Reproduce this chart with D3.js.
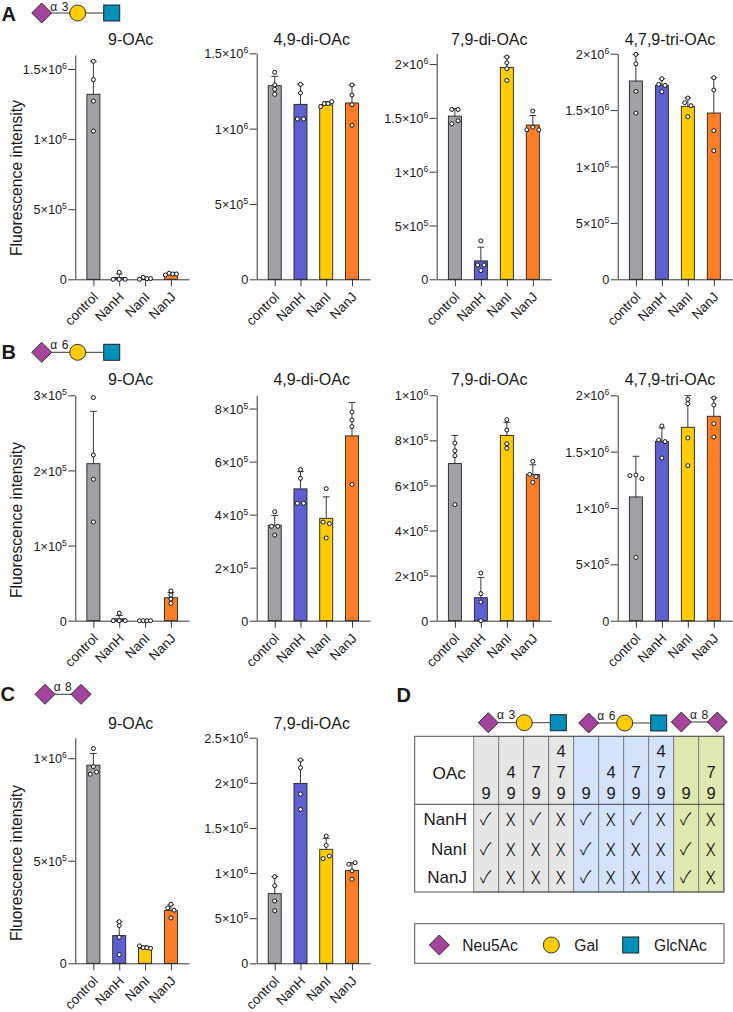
<!DOCTYPE html>
<html><head><meta charset="utf-8">
<style>html,body{margin:0;padding:0;background:#fff}svg{display:block}text{font-family:"Liberation Sans",Arial,sans-serif;fill:#1a1a1a}</style>
<script src="https://d3js.org/d3.v7.min.js"></script></head><body>
<svg id="c" width="733" height="1012"></svg>
<script>
// ---------- data ----------
const categories = ["control","NanH","NanI","NanJ"];
const barColors = ["#A2A2A6","#5F5FD0","#FFCC00","#FF7F27"];

const a1Means=[1320000,12500,6000,35000], a1Tops=[1555000,38000,14000,43000];
const a1Points=[[1555000,1424000,1271000,1057000],[0,50000,0,0],[0,14000,5000,5000],[31000,43000,38000,38000]];
const a2Means=[1285000,1161000,1158000,1170000], a2Tops=[1347000,1294000,1179000,1290000];
const a2Points=[[1374000,1290000,1261000,1228000],[1294000,1237000,1064000,1064000],[1146000,1166000,1166000,1179000],[1290000,1223000,1159000,1022000]];
const a3Means=[1516000,171000,1969000,1433000], a3Tops=[1588000,298000,2065000,1522000];
const a3Points=[[1578000,1578000,1445000,1473000],[357000,133000,133000,81000],[2065000,2012000,1957000,1848000],[1563000,1389000,1414000,1389000]];
const a4Means=[1758000,1719000,1533000,1474000], a4Tops=[1994000,1778000,1607000,1787000];
const a4Points=[[1994000,1911000,1666000,1474000],[1778000,1728000,1719000,1663000],[1607000,1566000,1539000,1442000],[1787000,1678000,1318000,1140000]];

const b1Means=[209000,2500,300,30600], b1Tops=[278700,7000,600,37600];
const b1Points=[[297000,220600,188200,131400],[10000,0,0,0],[0,0,0,0],[39500,34200,28800,23100]];
const b2Means=[360000,497000,386000,697000], b2Tops=[397000,562000,467000,823000];
const b2Points=[[411000,356000,356000,323000],[570000,537000,443000,443000],[498000,372000,366000,312000],[787000,757000,732000,514000]];
const b3Means=[697000,102000,822000,649000], b3Tops=[822000,192000,880000,692000];
const b3Points=[[788000,754000,732000,515000],[211500,120000,83000,0],[892000,846000,785000,765000],[707000,649000,639000,614000]];
const b4Means=[1098000,1589000,1716000,1814000], b4Tops=[1459000,1710000,1997000,1979000];
const b4Points=[[1287000,1293000,1260000,562000],[1728000,1604000,1589000,1444000],[1964000,1926000,1621000,1376000],[1976000,1914000,1749000,1630000]];

const c1Means=[966000,135000,73000,257000], c1Tops=[1023000,203000,84000,285000];
const c1Points=[[1047000,922000,959000,933000],[203000,184000,127000,42000],[85000,76000,76000,73000],[288000,270000,259000,221000]];
const c2Means=[772000,1994000,1263000,1030000], c2Tops=[960000,2253000,1385000,1115000];
const c2Points=[[960000,860000,690000,583000],[2253000,2168000,1876000,1706000],[1410000,1307000,1160000,1189000],[1097000,1115000,1023000,931000]];

const a1Ticks=[0,500000,1000000,1500000], a2Ticks=[0,500000,1000000,1500000];
const a3Ticks=[0,500000,1000000,1500000,2000000], a4Ticks=[0,500000,1000000,1500000,2000000];
const b1Ticks=[0,100000,200000,300000], b2Ticks=[0,200000,400000,600000,800000];
const b3Ticks=[0,200000,400000,600000,800000,1000000], b4Ticks=[0,500000,1000000,1500000,2000000];
const c1Ticks=[0,500000,1000000], c2Ticks=[0,500000,1000000,1500000,2000000,2500000];

const chartTitles=["9-OAc","4,9-di-OAc","7,9-di-OAc","4,7,9-tri-OAc"];
const yAxisLabel="Fluorescence intensity";

// table (panel D)
const oacColumns=[["9"],["4","9"],["7","9"],["4","7","9"],["9"],["4","9"],["7","9"],["4","7","9"],["9"],["7","9"]];
const enzymeRows=["NanH","NanI","NanJ"];
const nanHMarks=[1,0,1,0,1,0,1,0,1,0];
const nanIMarks=[1,0,0,0,1,0,0,0,1,0];
const nanJMarks=[1,0,0,0,1,0,0,0,1,0];
const legendNames=["Neu5Ac","Gal","GlcNAc"];

// ---------- layout ----------
const panels=[
 {m:a1Means,t:a1Tops,p:a1Points,ticks:a1Ticks,max:1600000,x0:75.3,y0:279.3,y1:55,x1:189,title:0,tx:130.7,ty:39,yl:178},
 {m:a2Means,t:a2Tops,p:a2Points,ticks:a2Ticks,max:1500000,x0:256.7,y0:279.3,y1:53.3,x1:370,title:1,tx:311.7,ty:39},
 {m:a3Means,t:a3Tops,p:a3Points,ticks:a3Ticks,max:2100000,x0:436.7,y0:279.3,y1:53.3,x1:551,title:2,tx:489.3,ty:39},
 {m:a4Means,t:a4Tops,p:a4Points,ticks:a4Ticks,max:2000000,x0:617.7,y0:279.3,y1:53.7,x1:732,title:3,tx:670,ty:39},
 {m:b1Means,t:b1Tops,p:b1Points,ticks:b1Ticks,max:300000,x0:75.3,y0:620.7,y1:395.3,x1:189,title:0,tx:130.7,ty:379,yl:520},
 {m:b2Means,t:b2Tops,p:b2Points,ticks:b2Ticks,max:850000,x0:256.7,y0:620.7,y1:395.3,x1:370,title:1,tx:311.7,ty:379},
 {m:b3Means,t:b3Tops,p:b3Points,ticks:b3Ticks,max:1000000,x0:436.7,y0:620.7,y1:395.3,x1:551,title:2,tx:489.3,ty:379},
 {m:b4Means,t:b4Tops,p:b4Points,ticks:b4Ticks,max:2000000,x0:617.7,y0:620.7,y1:395.3,x1:732,title:3,tx:670,ty:379},
 {m:c1Means,t:c1Tops,p:c1Points,ticks:c1Ticks,max:1100000,x0:75.3,y0:963.3,y1:737.7,x1:189,title:0,tx:130.7,ty:723.7,yl:863},
 {m:c2Means,t:c2Tops,p:c2Points,ticks:c2Ticks,max:2500000,x0:256.7,y0:963.3,y1:737.7,x1:370,title:2,tx:311.7,ty:723.7}
];
const INK="#222", svg=d3.select("#c");

function sciLabel(sel){
  sel.each(function(d){
    const t=d3.select(this); t.text(null);
    if(d===0){t.text("0");return;}
    const e=Math.floor(Math.log10(d)+1e-9), mant=+(d/Math.pow(10,e)).toFixed(2);
    t.append("tspan").text(mant+"×10");
    t.append("tspan").attr("font-size",8.6).attr("dy",-5).text(e);
  });
}
function offsets(vals,y){
  // points closer than a symbol's height sit side by side
  const spacing=[0,0,6.3,6,3.7,3];
  const idx=vals.map((v,i)=>i).sort((a,b)=>vals[b]-vals[a]);
  const out=vals.map(()=>0); let g=[];
  const flush=()=>{g.sort((a,b)=>a-b);g.forEach((k,j)=>out[k]=(j-(g.length-1)/2)*spacing[g.length]);g=[];};
  idx.forEach(k=>{ if(g.length&&Math.abs(y(vals[k])-y(vals[g[g.length-1]]))>=3.5)flush(); g.push(k);});
  flush(); return out;
}
panels.forEach(P=>{
  const x=d3.scalePoint().domain(categories).range([P.x0,P.x1]).padding(0.7);
  const y=d3.scaleLinear().domain([0,P.max]).range([P.y0,P.y1]);
  const g=svg.append("g");
  categories.forEach((c,i)=>{
    const cx=x(c);
    g.append("rect").attr("x",cx-6.5).attr("width",13).attr("y",y(P.m[i])).attr("height",Math.max(0,P.y0-y(P.m[i])))
      .attr("fill",barColors[i]).attr("stroke",INK).attr("stroke-width",0.9);
    g.append("line").attr("x1",cx).attr("x2",cx).attr("y1",y(P.m[i])).attr("y2",y(P.t[i])).attr("stroke",INK).attr("stroke-width",0.9);
    g.append("line").attr("x1",cx-3.4).attr("x2",cx+3.4).attr("y1",y(P.t[i])).attr("y2",y(P.t[i])).attr("stroke",INK).attr("stroke-width",0.9);
  });
  const ax=svg.append("g");
  const yA=ax.append("g").attr("transform",`translate(${P.x0},0)`).call(d3.axisLeft(y).tickValues(P.ticks).tickSize(7).tickSizeOuter(0));
  yA.selectAll("path,line").attr("stroke",INK).attr("stroke-width",0.9);
  yA.selectAll("text").attr("font-size",12.7).attr("x",-8.5).attr("dy","0.36em").call(sciLabel);
  yA.attr("font-family",null);
  const xA=ax.append("g").attr("transform",`translate(0,${P.y0})`).call(d3.axisBottom(x).tickSize(7).tickSizeOuter(0));
  xA.attr("font-family",null);
  xA.selectAll("path,line").attr("stroke",INK).attr("stroke-width",0.9);
  xA.selectAll("text").attr("font-size",13.4).attr("text-anchor","end").attr("dy",0).attr("y",0).attr("x",0)
    .attr("transform","translate(5,18.5) rotate(-45)");
  categories.forEach((c,i)=>{
    const o=offsets(P.p[i],y);
    P.p[i].forEach((v,k)=>{
      svg.append("circle").attr("cx",x(c)+o[k]).attr("cy",y(v)).attr("r",2).attr("fill","#fff").attr("stroke","#111").attr("stroke-width",1);
    });
  });
  svg.append("text").attr("x",P.tx).attr("y",P.ty).attr("dy","0.35em").attr("text-anchor","middle").attr("font-size",16).text(chartTitles[P.title]);
  if(P.yl) svg.append("text").attr("transform",`translate(16,${P.yl}) rotate(-90)`).attr("dy","0.35em").attr("text-anchor","middle").attr("font-size",15.7).text(yAxisLabel);
});

// ---------- glycan symbols ----------
const PURPLE="#A5449C",GOLD="#FFCC00",TEAL="#0090BC";
function diamond(g,cx,cy,h){g.append("path").attr("d",d3.line()([[cx-h,cy],[cx,cy-h],[cx+h,cy],[cx,cy+h]])+"Z").attr("fill",PURPLE).attr("stroke",INK).attr("stroke-width",0.9);}
function circle(g,cx,cy,r){g.append("circle").attr("cx",cx).attr("cy",cy).attr("r",r).attr("fill",GOLD).attr("stroke",INK).attr("stroke-width",0.9);}
function square(g,cx,cy,h){g.append("rect").attr("x",cx-h).attr("y",cy-h).attr("width",2*h).attr("height",2*h).attr("fill",TEAL).attr("stroke",INK).attr("stroke-width",1);}
function linkLabel(x,y,t){svg.append("text").attr("x",x).attr("y",y).attr("dy","0.35em").attr("text-anchor","middle").attr("font-size",12).attr("letter-spacing",0.6).text(t);}
function triGlycan(x,y,lab,ly){
  const g=svg.append("g");
  g.append("line").attr("x1",x).attr("x2",x+70).attr("y1",y).attr("y2",y).attr("stroke",INK).attr("stroke-width",0.9);
  diamond(g,x,y,10);circle(g,x+36,y,8);square(g,x+70,y,8);
  linkLabel(x+18,ly,lab);
}
function diGlycan(x,y,lab,ly){
  const g=svg.append("g");
  g.append("line").attr("x1",x).attr("x2",x+36).attr("y1",y).attr("y2",y).attr("stroke",INK).attr("stroke-width",0.9);
  diamond(g,x,y,10);diamond(g,x+36,y,10);
  linkLabel(x+18,ly,lab);
}
triGlycan(41.7,13,"α 3",6.5);
triGlycan(41.7,352.3,"α 6",345);
diGlycan(45,694.3,"α 8",686.7);
triGlycan(488.3,722.7,"α 3",715);
triGlycan(588.7,723,"α 6",715.5);
diGlycan(681.3,722,"α 8",714.3);

[["A",1.5,14],["B",1.5,352],["C",0.5,694],["D",396.5,695]].forEach(d=>{
  svg.append("text").attr("x",d[1]).attr("y",d[2]).attr("dy","0.36em").attr("font-weight","bold").attr("font-size",20).attr("fill","#000").text(d[0]);
});

// ---------- table D ----------
const tL=414.7,tR=724,tT=736.3,tH=804.3,tB=892,c0=473.7,cw=25;
const colFill=i=>i<4?"#E6E6E6":i<8?"#D3E3FC":"#DFE8AE";
const T=svg.append("g");
oacColumns.forEach((col,i)=>{
  const x=c0+i*cw;
  T.append("rect").attr("x",x).attr("y",tT).attr("width",cw).attr("height",tB-tT).attr("fill",colFill(i)).attr("stroke","#777").attr("stroke-width",0.9);
  const rows=[793.3,772.3,751];
  col.slice().reverse().forEach((d,k)=>T.append("text").attr("x",x+cw/2).attr("y",rows[k]).attr("dy","0.36em").attr("text-anchor","middle").attr("font-size",16.5).text(d));
});
T.append("rect").attr("x",tL).attr("y",tT).attr("width",tR-tL).attr("height",tB-tT).attr("fill","none").attr("stroke","#555").attr("stroke-width",1);
T.append("line").attr("x1",tL).attr("x2",tR).attr("y1",tH).attr("y2",tH).attr("stroke","#333").attr("stroke-width",0.9);
T.append("text").attr("x",466).attr("y",772.7).attr("dy","0.36em").attr("text-anchor","end").attr("font-size",17.3).text("OAc");
const rowY=[819,848.7,877.3];
[nanHMarks,nanIMarks,nanJMarks].forEach((row,r)=>{
  T.append("text").attr("x",467).attr("y",rowY[r]).attr("dy","0.36em").attr("text-anchor","end").attr("font-size",17).text(enzymeRows[r]);
  row.forEach((m,i)=>{
    const cx=c0+i*cw+cw/2;
    T.append("text").attr("transform",`translate(${cx-0.5},${rowY[r]}) scale(${m?1:0.85},1)`).attr("dy","0.36em").attr("text-anchor","middle")
      .attr("font-size",m?17:19).style("font-family",m?"'Noto Sans CJK JP'":"Roboto").style("fill","#000").attr("font-weight",300).text(m?"✓":"X");
  });
});

// ---------- legend ----------
const L=svg.append("g");
L.append("rect").attr("x",tL).attr("y",923.7).attr("width",tR-tL).attr("height",39.6).attr("fill","#fff").attr("stroke","#555").attr("stroke-width",1);
diamond(L,439.3,945,10);circle(L,551.3,945,8);square(L,630.7,945,8);
[462.3,574.3,654].forEach((x,i)=>L.append("text").attr("x",x).attr("y",945).attr("dy","0.36em").attr("font-size",15.6).text(legendNames[i]));
</script></body></html>
